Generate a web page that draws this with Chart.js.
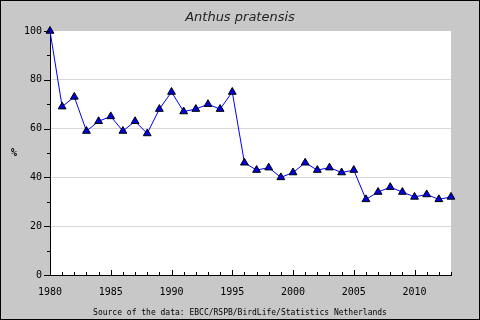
<!DOCTYPE html>
<html>
<head>
<meta charset="utf-8">
<script src="https://cdn.jsdelivr.net/npm/chart.js@4"></script>
<style>
  html, body { margin: 0; padding: 0; background: #c8c8c8; }
  #wrap { width: 480px; height: 320px; }
</style>
</head>
<body>
<div id="wrap"><canvas id="trendChart" width="480" height="320"></canvas></div>
<script>
let years = [1980,1981,1982,1983,1984,1985,1986,1987,1988,1989,1990,1991,1992,1993,1994,1995,1996,
  1997,1998,1999,2000,2001,2002,2003,2004,2005,2006,2007,2008,2009,2010,2011,2012,2013]
let index = [100,69,73,59,63,65,59,63,58,68,75,67,68,70,68,75,46,
  43,44,40,42,46,43,44,42,43,31,34,36,34,32,33,31,32]
let yTicks = [0,20,40,60,80,100]
let xLabels = [1980,1985,1990,1995,2000,2005,2010]

let title = 'Anthus pratensis'
let source = 'Source of the data: EBCC/RSPB/BirdLife/Statistics Netherlands'

let points = years.map((y,i) => ({x:y, y:index[i]}))

// background, frame, title, footer and the little ticks
let decor = {
  id:'decor',
  beforeDraw(chart){
    let c = chart.ctx, a = chart.chartArea
    c.save()
    c.fillStyle = '#c8c8c8'
    c.fillRect(0,0,chart.width,chart.height)
    c.fillStyle = '#fff'
    c.fillRect(a.left,a.top,a.right-a.left,a.bottom-a.top)
    c.restore()
  },
  afterDraw(chart){
    let c = chart.ctx, a = chart.chartArea
    let xs = chart.scales.x, ys = chart.scales.y
    c.save()
    c.strokeStyle = '#000'
    c.lineWidth = 1
    c.beginPath()
    xs.ticks.forEach(t => {
      let px = Math.round(xs.getPixelForValue(t.value)) + 0.5
      let len = t.value % 5 === 0 ? 5 : 3
      c.moveTo(px, a.bottom)
      c.lineTo(px, a.bottom - len)
    })
    ys.ticks.forEach(t => {
      let py = Math.round(ys.getPixelForValue(t.value)) + 0.5
      let len = t.value % 20 === 0 ? 6 : 3
      c.moveTo(a.left, py)
      c.lineTo(a.left - len, py)
    })
    c.stroke()
    c.strokeRect(0.5,0.5,chart.width-1,chart.height-1)

    c.fillStyle = '#222'
    c.textAlign = 'center'
    c.textBaseline = 'alphabetic'
    c.font = 'italic 13px "DejaVu Sans"'
    c.fillText(title, 240, 21)
    c.fillStyle = '#000'
    c.font = '8px "DejaVu Sans Mono"'
    c.fillText(source, 240, 315)
    c.font = 'bold 10px "DejaVu Sans Mono"'
    c.textBaseline = 'middle'
    c.fillText('%', 14, 153)
    c.restore()
  }
}

Chart.defaults.font.family = '"DejaVu Sans Mono"'
Chart.defaults.font.size = 10
Chart.defaults.color = '#000'

let chart = new Chart(document.getElementById('trendChart'), {
  type:'line',
  data:{
    datasets:[{
      data:points,
      borderColor:'#0000ff',
      borderWidth:1,
      tension:0,
      pointStyle:'triangle',
      pointRadius:4.5,
      pointBackgroundColor:'#0000e0',
      pointBorderColor:'#000',
      pointBorderWidth:1,
      clip:false
    }]
  },
  options:{
    responsive:false,
    animation:false,
    layout:{padding:{top:31,left:0,right:29,bottom:0}},
    plugins:{legend:{display:false},tooltip:{enabled:false},title:{display:false}},
    scales:{
      x:{
        type:'linear',
        min:years[0],
        max:years[years.length-1],
        grid:{display:false,drawTicks:false},
        border:{display:true,color:'#000',width:1},
        ticks:{
          stepSize:1,
          autoSkip:false,
          maxRotation:0,
          padding:11,
          callback:v => xLabels.includes(v) ? String(v) : ''
        },
        afterFit:s => { s.height = 45 }
      },
      y:{
        min:yTicks[0],
        max:yTicks[yTicks.length-1],
        grid:{
          drawTicks:false,
          color:ctx => (ctx.tick && yTicks.includes(ctx.tick.value) && ctx.tick.value > 0 && ctx.tick.value < 100) ? '#d8d8d8' : 'rgba(0,0,0,0)'
        },
        border:{display:true,color:'#000',width:1},
        ticks:{
          stepSize:10,
          padding:8,
          callback:v => yTicks.includes(v) ? String(v) : ''
        },
        afterFit:s => { s.width = 50 }
      }
    }
  },
  plugins:[decor]
})
</script>
</body>
</html>
